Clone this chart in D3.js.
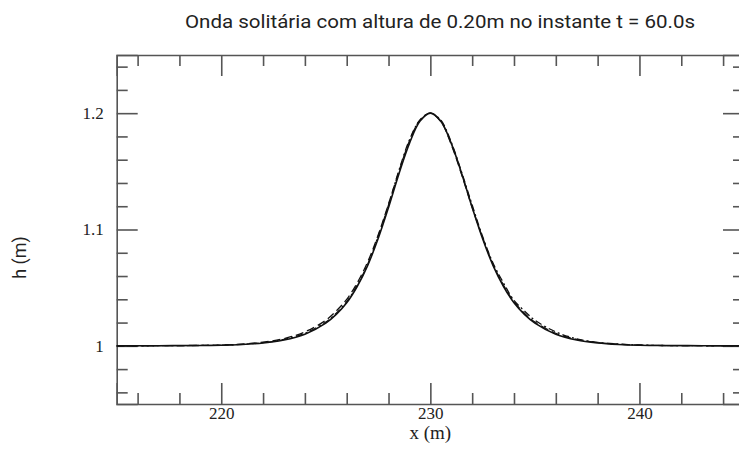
<!DOCTYPE html>
<html>
<head>
<meta charset="utf-8">
<script src="https://cdn.jsdelivr.net/npm/d3@7"></script>
<style>
  html, body { margin: 0; padding: 0; background: #fff; }
  svg { display: block; }
</style>
</head>
<body>
<svg id="chart" width="739" height="457"></svg>
<script>
// ---- data ----
const xValues = [215, 217, 219, 220, 221, 222, 223, 224, 225, 225.5, 226, 226.5, 227, 227.5, 228, 228.5, 229, 229.5, 230,
                 230.5, 231, 231.5, 232, 232.5, 233, 233.5, 234, 234.5, 235, 236, 237, 238, 239, 240, 241, 243, 245];
const hSolid  = [1.0000, 1.0001, 1.0003, 1.0005, 1.0012, 1.0025, 1.0050, 1.0100, 1.0195, 1.027, 1.037, 1.051, 1.069, 1.092, 1.119, 1.148, 1.174, 1.193, 1.200,
                 1.193, 1.174, 1.148, 1.119, 1.092, 1.069, 1.051, 1.037, 1.027, 1.0195, 1.0100, 1.0050, 1.0025, 1.0012, 1.0005, 1.0003, 1.0001, 1.0000];
const hDashed = [1.0000, 1.0001, 1.0004, 1.0007, 1.0015, 1.0032, 1.0062, 1.0120, 1.0220, 1.030, 1.040, 1.054, 1.072, 1.095, 1.122, 1.150, 1.176, 1.194, 1.200,
                 1.193, 1.173, 1.147, 1.119, 1.093, 1.070, 1.052, 1.038, 1.028, 1.0205, 1.0108, 1.0056, 1.0028, 1.0014, 1.0006, 1.0003, 1.0001, 1.0000];
const hDashDot = [1.0000, 1.0001, 1.0003, 1.0006, 1.0013, 1.0028, 1.0055, 1.0108, 1.0205, 1.028, 1.038, 1.052, 1.070, 1.094, 1.121, 1.151, 1.177, 1.194, 1.200,
                 1.194, 1.175, 1.149, 1.121, 1.094, 1.071, 1.054, 1.039, 1.030, 1.0220, 1.0120, 1.0060, 1.0030, 1.0015, 1.0007, 1.0003, 1.0001, 1.0000];

const xMajorTicks = [220, 230, 240];
const xMajorLabels = ["220", "230", "240"];
const xMinorTicks = [216, 218, 222, 224, 226, 228, 232, 234, 236, 238, 242, 244];
const yMajorTicks = [1.0, 1.1, 1.2];
const yMajorLabels = ["1", "1.1", "1.2"];
const yMinorTicks = [0.96, 0.98, 1.02, 1.04, 1.06, 1.08, 1.12, 1.14, 1.16, 1.18, 1.22, 1.24];

const titleText = "Onda solitária com altura de 0.20m no instante t = 60.0s";
const xLabel = "x (m)";
const yLabel = "h (m)";

// ---- layout ----
const svg = d3.select("#chart");
const pLeft = 116.7, pRight = 744, pTop = 55, pBottom = 404;

const x = d3.scaleLinear().domain([215, 245]).range([pLeft, pRight]);
const y = d3.scaleLinear().domain([0.95, 1.25]).range([pBottom, pTop]);

const axisColor = "#555";
const majorLen = 21, minorLen = 11;

function styleAxis(g) {
  g.select(".domain").attr("stroke", axisColor).attr("stroke-width", 1.6);
  g.selectAll(".tick line").attr("stroke", axisColor).attr("stroke-width", 1.6);
}

// bottom axis (major with labels)
const gb = svg.append("g").attr("transform", `translate(0,${pBottom})`)
  .call(d3.axisBottom(x).tickValues(xMajorTicks).tickSize(-majorLen).tickPadding(3)
    .tickFormat((d, i) => xMajorLabels[i]));
gb.selectAll(".tick text").attr("font-family", "'Liberation Serif', serif").attr("font-size", 17).attr("fill", "#222");
styleAxis(gb);
const gbm = svg.append("g").attr("transform", `translate(0,${pBottom})`)
  .call(d3.axisBottom(x).tickValues(xMinorTicks).tickSize(-minorLen).tickFormat(""));
styleAxis(gbm); gbm.select(".domain").remove();

// top axis
const gt = svg.append("g").attr("transform", `translate(0,${pTop})`)
  .call(d3.axisTop(x).tickValues(xMajorTicks).tickSize(-majorLen).tickFormat(""));
styleAxis(gt);
const gtm = svg.append("g").attr("transform", `translate(0,${pTop})`)
  .call(d3.axisTop(x).tickValues(xMinorTicks).tickSize(-minorLen).tickFormat(""));
styleAxis(gtm); gtm.select(".domain").remove();

// left axis
const gl = svg.append("g").attr("transform", `translate(${pLeft},0)`)
  .call(d3.axisLeft(y).tickValues(yMajorTicks).tickSize(-majorLen).tickPadding(13)
    .tickFormat((d, i) => yMajorLabels[i]));
gl.selectAll(".tick text").attr("font-family", "'Liberation Serif', serif").attr("font-size", 17).attr("fill", "#222");
styleAxis(gl);
const glm = svg.append("g").attr("transform", `translate(${pLeft},0)`)
  .call(d3.axisLeft(y).tickValues(yMinorTicks).tickSize(-minorLen).tickFormat(""));
styleAxis(glm); glm.select(".domain").remove();

// right axis
const gr = svg.append("g").attr("transform", `translate(${pRight},0)`)
  .call(d3.axisRight(y).tickValues(yMajorTicks).tickSize(-majorLen).tickFormat(""));
styleAxis(gr);
const grm = svg.append("g").attr("transform", `translate(${pRight},0)`)
  .call(d3.axisRight(y).tickValues(yMinorTicks).tickSize(-minorLen).tickFormat(""));
styleAxis(grm); grm.select(".domain").remove();

// ---- curves ----
const line = d3.line().x((d) => x(d[0])).y((d) => y(d[1])).curve(d3.curveCatmullRom);
const series = [
  { vals: hDashDot, dash: "7,3,2,3", w: 1.3 },
  { vals: hDashed, dash: "8,4", w: 1.3 },
  { vals: hSolid, dash: null, w: 1.6 }
];
series.forEach((s) => {
  svg.append("path")
    .datum(xValues.map((xv, i) => [xv, s.vals[i]]))
    .attr("fill", "none")
    .attr("stroke", "#111")
    .attr("stroke-width", s.w)
    .attr("stroke-dasharray", s.dash)
    .attr("d", line);
});

// ---- texts ----
svg.append("text")
  .attr("x", 440).attr("y", 28)
  .attr("text-anchor", "middle")
  .attr("font-family", "Roboto, sans-serif")
  .attr("font-size", 19)
  .attr("textLength", 510)
  .attr("lengthAdjust", "spacingAndGlyphs")
  .attr("fill", "#222")
  .text(titleText);

svg.append("text")
  .attr("x", x(230)).attr("y", 439)
  .attr("text-anchor", "middle")
  .attr("font-family", "'Liberation Serif', serif")
  .attr("font-size", 19)
  .attr("fill", "#222")
  .text(xLabel);

svg.append("text")
  .attr("transform", `translate(26,${(pTop + pBottom) / 2 + 28}) rotate(-90)`)
  .attr("text-anchor", "middle")
  .attr("font-family", "Roboto, sans-serif")
  .attr("font-size", 18)
  .attr("fill", "#222")
  .text(yLabel);
</script>
</body>
</html>
